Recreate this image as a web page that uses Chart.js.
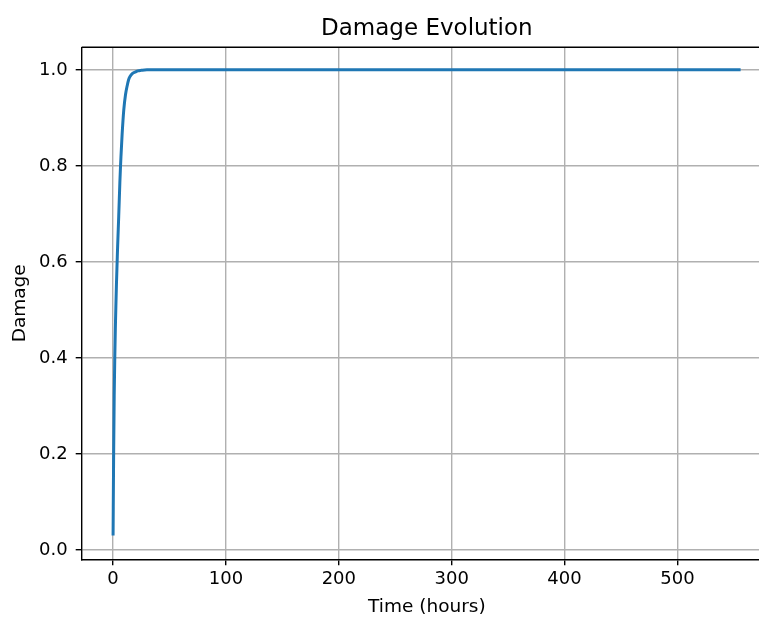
<!DOCTYPE html>
<html>
<head>
<meta charset="utf-8">
<script src="https://cdn.jsdelivr.net/npm/chart.js@4"></script>
<style>
  html, body { margin: 0; padding: 0; overflow: hidden; background: #fff; }
  #wrap { width: 772px; height: 617px; position: relative; }
</style>
</head>
<body>
<div id="wrap"><canvas id="canvas"></canvas></div>
<script>
// values
var hours  = [0, 0.5, 1, 1.5, 2, 2.5, 3, 3.6, 4, 5, 6, 6.6, 7, 8, 9.5, 11, 12.5, 13.7, 15, 17.5, 20, 22, 25, 30, 40, 100, 200, 300, 400, 500, 556];
var damage = [0.03, 0.2, 0.32, 0.4, 0.46, 0.51, 0.555, 0.6, 0.63, 0.695, 0.765, 0.8, 0.82, 0.865, 0.917, 0.948, 0.967, 0.979, 0.986, 0.993, 0.996, 0.998, 0.999, 1, 1, 1, 1, 1, 1, 1, 1];
var xTicks = [0, 100, 200, 300, 400, 500];
var yTicks = [0.0, 0.2, 0.4, 0.6, 0.8, 1.0];

var points = [];
for (let i = 0; i < hours.length; i++) {
  points.push({ x: hours[i], y: damage[i] });
}

Chart.defaults.font.family = '"DejaVu Sans", sans-serif';
Chart.defaults.color = '#000';

// top + right spines (matplotlib box)
const boxPlugin = {
  id: 'box',
  afterDraw(chart) {
    const a = chart.chartArea, c = chart.ctx;
    c.save();
    c.strokeStyle = '#000';
    c.lineWidth = 1.4;
    c.beginPath();
    c.moveTo(a.left, a.top);
    c.lineTo(a.right - 1, a.top);
    c.lineTo(a.right - 1, a.bottom);
    c.stroke();
    c.restore();
  }
};

const ctx = document.getElementById('canvas');

new Chart(ctx, {
  type: 'line',
  data: {
    datasets: [{
      label: 'Damage',
      data: points,
      borderColor: '#1f77b4',
      borderWidth: 3,
      pointRadius: 0,
      cubicInterpolationMode: 'monotone',
      fill: false
    }]
  },
  options: {
    responsive: true,
    maintainAspectRatio: false,
    animation: false,
    layout: { padding: { left: 0, right: 0, top: 0, bottom: 0 } },
    plugins: {
      legend: { display: false },
      tooltip: { enabled: false },
      title: {
        display: true,
        text: 'Damage Evolution',
        fullSize: false,
        font: { size: 23, weight: 'normal' },
        padding: { top: 15.5, bottom: 4.2 }
      }
    },
    scales: {
      x: {
        type: 'linear',
        min: -27.8,
        max: 583.8,
        afterBuildTicks(scale) { scale.ticks = xTicks.map(v => ({ value: v })); },
        afterFit(scale) { scale.height = 57.7; },
        ticks: {
          includeBounds: false,
          padding: 3,
          font: { size: 18 },
          callback: v => String(v)
        },
        grid: { color: '#b0b0b0', lineWidth: 1.4, tickColor: '#000', tickLength: 6, tickWidth: 1.4 },
        border: { color: '#000', width: 1.4 },
        title: { display: true, text: 'Time (hours)', font: { size: 18.5 }, padding: { top: 0, bottom: -1 } }
      },
      y: {
        min: -0.0194,
        max: 1.047,
        afterBuildTicks(scale) { scale.ticks = yTicks.map(v => ({ value: v })); },
        afterFit(scale) { scale.width = 81.7; },
        ticks: {
          includeBounds: false,
          padding: 8,
          font: { size: 18 },
          callback: v => Number(v).toFixed(1)
        },
        grid: { color: '#b0b0b0', lineWidth: 1.4, tickColor: '#000', tickLength: 6, tickWidth: 1.4 },
        border: { color: '#000', width: 1.4 },
        title: { display: true, text: 'Damage', font: { size: 18.5 }, padding: { top: 9.5, bottom: 0 } }
      }
    }
  },
  plugins: [boxPlugin]
});
</script>
</body>
</html>
